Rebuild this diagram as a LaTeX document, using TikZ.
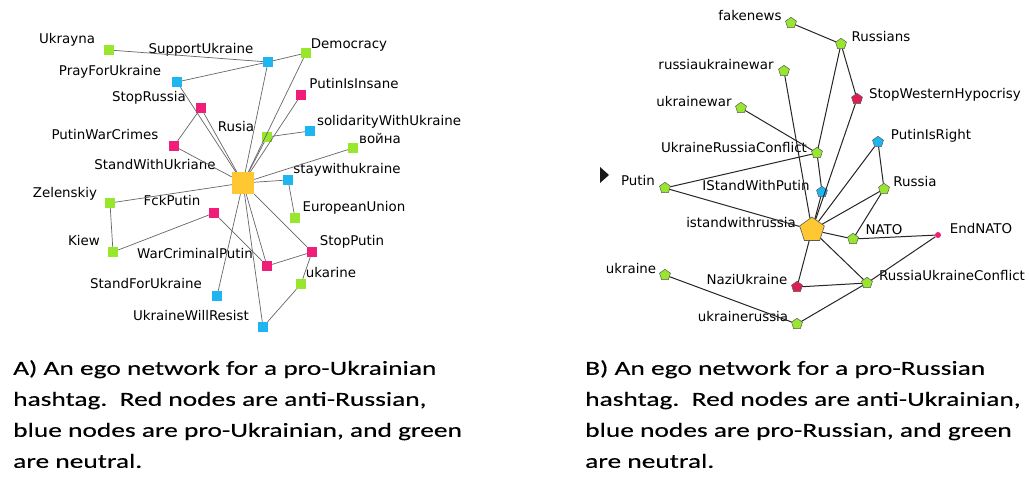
\documentclass[tikz,border=0pt]{standalone}
\usepackage{fontspec}
\setmainfont{DejaVu Sans}
\newfontfamily\capfont[FakeStretch=1.37,FakeBold=0.3]{Carlito}
\usetikzlibrary{shapes.geometric}
\definecolor{ngreen}{RGB}{153,230,46}
\definecolor{nblue}{RGB}{30,182,240}
\definecolor{npink}{RGB}{240,30,120}
\definecolor{nred}{RGB}{222,30,82}
\definecolor{norange}{RGB}{255,200,50}
\definecolor{pline}{RGB}{90,90,90}
\begin{document}
\begin{tikzpicture}[x=1pt,y=-1pt,
  sq/.style={rectangle,minimum size=10pt,inner sep=0pt,draw=none},
  gsq/.style={sq,fill=ngreen},
  bsq/.style={sq,fill=nblue},
  rsq/.style={sq,fill=npink},
  egosq/.style={rectangle,minimum size=22pt,inner sep=0pt,fill=norange},
  pent/.style={regular polygon,regular polygon sides=5,minimum size=11.5pt,inner sep=0pt,draw=pline,line width=0.5pt},
  gp/.style={pent,fill=ngreen},
  bp/.style={pent,fill=nblue},
  rp/.style={pent,fill=nred},
  egop/.style={regular polygon,regular polygon sides=5,minimum size=26pt,inner sep=0pt,draw=pline,line width=0.6pt,fill=norange},
  dotn/.style={circle,minimum size=6pt,inner sep=0pt,fill=npink},
  lab/.style={font=\fontsize{13.4}{15}\selectfont,inner sep=0pt,text height=9.6pt,text depth=2.6pt,anchor=center,text=black},
  le/.style={draw=black!60,line width=0.7pt},
  re/.style={draw=black!85,line width=1pt},
  captext/.style={font=\capfont\fontsize{20}{31}\selectfont,align=left,anchor=north west,inner sep=0pt,text=black}
]
\fill[white] (0,0) rectangle (1029,481);
\useasboundingbox (0,0) rectangle (1029,481);

% ---------- Left network ----------
\node[egosq] (c) at (243,183) {};
\node[gsq] (ukr) at (109,50) {};
\node[bsq] (sup) at (268,62) {};
\node[bsq] (pray) at (177,82) {};
\node[rsq] (sru) at (201,108) {};
\node[gsq] (rus) at (267,137) {};
\node[rsq] (pwc) at (174,146) {};
\node[gsq] (dem) at (306,53) {};
\node[rsq] (ins) at (301,95) {};
\node[bsq] (sol) at (310,131) {};
\node[gsq] (voy) at (353,148) {};
\node[bsq] (stay) at (288,180) {};
\node[gsq] (eu) at (295,218) {};
\node[rsq] (stp) at (312,252) {};
\node[gsq] (uka) at (301,284) {};
\node[rsq] (war) at (267,266) {};
\node[bsq] (uwr) at (263,327) {};
\node[bsq] (sfu) at (217,296) {};
\node[gsq] (zel) at (110,203) {};
\node[rsq] (fck) at (214,213) {};
\node[gsq] (kiew) at (113,252) {};

\node[lab] (lukr) at (67,40) {Ukrayna};
\node[lab] (lsup) at (201,50) {SupportUkraine};
\node[lab] (lpray) at (110,72) {PrayForUkraine};
\node[lab] (lsru) at (149,98) {StopRussia};
\node[lab] (lrus) at (236,128) {Rusia};
\node[lab] (lpwc) at (105,136) {PutinWarCrimes};
\node[lab] (lc) at (155,166) {StandWithUkriane};
\node[lab] (ldem) at (349,45) {Democracy};
\node[lab] (lins) at (354,85) {PutinIsInsane};
\node[lab] (lsol) at (389,122) {solidarityWithUkraine};
\node[lab] (lvoy) at (380,140) {война};
\node[lab] (lstay) at (347,170) {staywithukraine};
\node[lab] (leu) at (354,208) {EuropeanUnion};
\node[lab] (lstp) at (352,242) {StopPutin};
\node[lab] (luka) at (331,274) {ukarine};
\node[lab] (lwar) at (195,255) {WarCriminalPutin};
\node[lab] (luwr) at (191,317) {UkraineWillResist};
\node[lab] (lsfu) at (146,285) {StandForUkraine};
\node[lab] (lzel) at (65,194) {Zelenskiy};
\node[lab] (lfck) at (172,202) {FckPutin};
\node[lab] (lkiew) at (84,242) {Kiew};

\foreach \a/\b in {ukr/sup,pray/sup,sup/dem,sup/c,dem/c,ins/c,rus/c,rus/sol,voy/c,stay/c,stay/eu,c/war,c/stp,war/stp,stp/uka,uka/uwr,c/uwr,c/sfu,fck/war,fck/kiew,zel/kiew,zel/c,sru/pwc,pray/c,pwc/c,sru/c}
  \draw[le] (\a) -- (\b);

% ---------- Right network ----------
\node[egop] (C) at (812,230) {};
\node[gp] (fake) at (791,23) {};
\node[gp] (rns) at (841,44) {};
\node[gp] (ruw) at (784,71) {};
\node[rp] (swh) at (857,99) {};
\node[gp] (uw) at (741,108) {};
\node[bp] (pir) at (878,142) {};
\node[gp] (urc) at (817,153) {};
\node[gp] (put) at (665,188) {};
\node[bp] (isp) at (822,192) {};
\node[gp] (rsa) at (884,189) {};
\node[gp] (nato) at (853,239) {};
\node[dotn] (end) at (938,235) {};
\node[gp] (ukn) at (665,275) {};
\node[rp] (nazi) at (797,287) {};
\node[gp] (ruc) at (867,283) {};
\node[gp] (ukr2) at (797,324) {};

\node[lab] (lC) at (741,224) {istandwithrussia};
\node[lab] (lfake) at (750,17) {fakenews};
\node[lab] (lrns) at (881,38) {Russians};
\node[lab] (lruw) at (716,66) {russiaukrainewar};
\node[lab] (lswh) at (945,95) {StopWesternHypocrisy};
\node[lab] (luw) at (694,103) {ukrainewar};
\node[lab] (lpir) at (931,136) {PutinIsRight};
\node[lab] (lurc) at (734,149) {UkraineRussiaConflict};
\node[lab] (lput) at (638,182) {Putin};
\node[lab] (lisp) at (756,187) {IStandWithPutin};
\node[lab] (lrsa) at (915,183) {Russia};
\node[lab] (lnato) at (884,231) {NATO};
\node[lab] (lend) at (981,230) {EndNATO};
\node[lab] (lukn) at (631,270) {ukraine};
\node[lab] (lnazi) at (747,281) {NaziUkraine};
\node[lab] (lruc) at (952,277) {RussiaUkraineConflict};
\node[lab] (lukr2) at (743,318) {ukrainerussia};

\foreach \a/\b in {fake/rns,rns/swh,rns/urc,swh/C,ruw/C,uw/urc,urc/isp,put/urc,put/C,isp/C,C/pir,pir/rsa,C/rsa,nato/rsa,C/nato,nato/end,end/ruc,C/ruc,nazi/ruc,ukr2/ruc,C/nazi,ukn/ukr2}
  \draw[re] (\a) -- (\b);

\fill[black!90] (600,167) -- (609,175) -- (600,183) -- cycle;

% ---------- Captions ----------
\node[captext] (capA) at (13,360) {A) An ego network for a pro-Ukrainian\\hashtag.\ \ Red nodes are anti-Russian,\\blue nodes are pro-Ukrainian, and green\\are neutral.};
\node[captext] (capB) at (585,360) {B) An ego network for a pro-Russian\\hashtag.\ \ Red nodes are anti-Ukrainian,\\blue nodes are pro-Russian, and green\\are neutral.};
\end{tikzpicture}
\end{document}
